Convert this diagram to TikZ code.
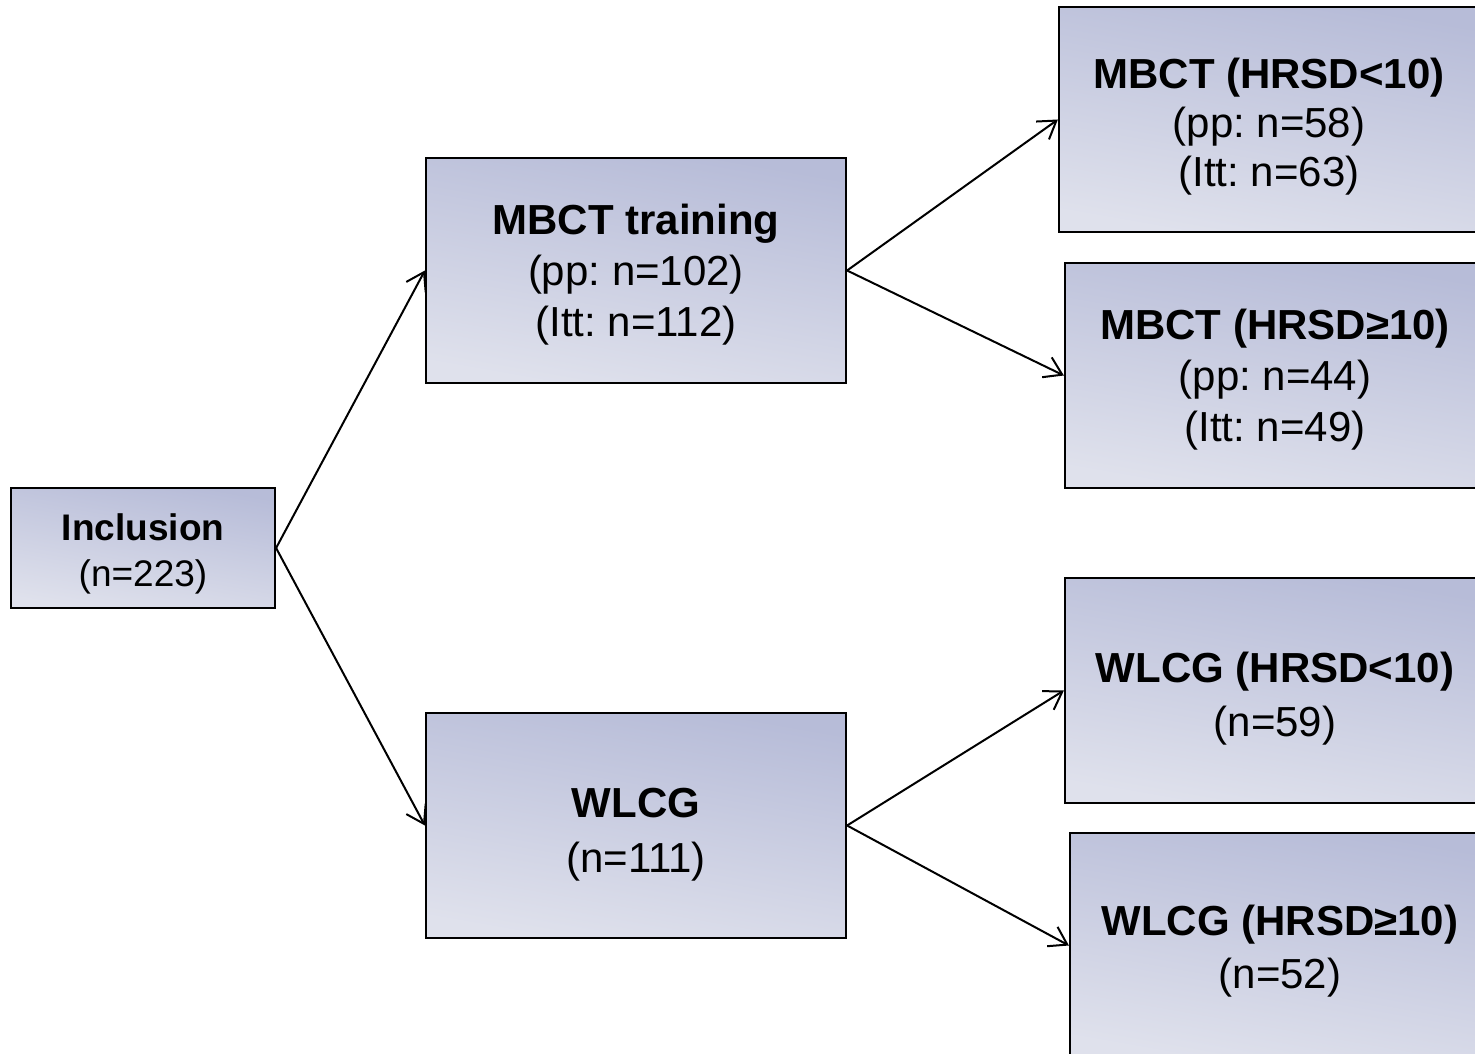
\documentclass[tikz,border=0pt]{standalone}
\usepackage{fontspec}
\setmainfont{Liberation Sans}
\frenchspacing
\usetikzlibrary{arrows.meta}
\definecolor{boxtop}{HTML}{B7BCD8}
\definecolor{boxbot}{HTML}{DFE1EC}
\newcommand\bxt[2]{\raisebox{0pt}[\dimexpr\height+#1\relax][\depth]{\begin{tabular}{@{}c@{}}#2\end{tabular}}}
\tikzset{
  flowbox/.style={draw=black, line width=2.2pt, rectangle, inner sep=0pt,
    top color=boxtop, bottom color=boxbot, shading angle=-10,
    minimum width=420pt, minimum height=225pt,
    font=\fontsize{42}{51}\selectfont},
  smallbox/.style={flowbox, minimum width=264pt, minimum height=120pt,
    font=\fontsize{37}{46}\selectfont},
  conn/.style={draw=black, line width=2pt,
    -{Straight Barb[length=17pt,width=22pt,line width=2pt]}}
}
\begin{document}
\begin{tikzpicture}[x=1pt,y=-1pt]
\useasboundingbox (0,0) rectangle (1475,1054);
\node[smallbox] (inc) at (143,548) {\bxt{12pt}{\textbf{Inclusion}\\(n=223)}};
\node[flowbox] (mbct) at (636,270.5) {\bxt{10pt}{\textbf{MBCT training}\\(pp: n=102)\\(Itt: n=112)}};
\node[flowbox, font=\fontsize{42}{55}\selectfont] (wlcg) at (636,825.5) {\bxt{16pt}{\textbf{WLCG}\\(n=111)}};
\node[flowbox, font=\fontsize{42}{49}\selectfont] (m1) at (1269,119.5) {\bxt{16pt}{\textbf{MBCT (HRSD<10)}\\(pp: n=58)\\(Itt: n=63)}};
\node[flowbox, font=\fontsize{42}{51}\selectfont] (m2) at (1275,375.5) {\bxt{10pt}{\textbf{MBCT (HRSD≥10)}\\(pp: n=44)\\(Itt: n=49)}};
\node[flowbox, font=\fontsize{42}{54}\selectfont] (w1) at (1275,690.5) {\bxt{16pt}{\textbf{WLCG (HRSD<10)}\\(n=59)}};
\node[flowbox, font=\fontsize{42}{53}\selectfont] (w2) at (1280,945.5) {\bxt{12pt}{\textbf{WLCG (HRSD≥10)}\\(n=52)}};
\draw[conn] (inc.east) -- (mbct.west);
\draw[conn] (inc.east) -- (wlcg.west);
\draw[conn] (mbct.east) -- (m1.west);
\draw[conn] (mbct.east) -- (m2.west);
\draw[conn] (wlcg.east) -- (w1.west);
\draw[conn] (wlcg.east) -- (w2.west);
\end{tikzpicture}
\end{document}
